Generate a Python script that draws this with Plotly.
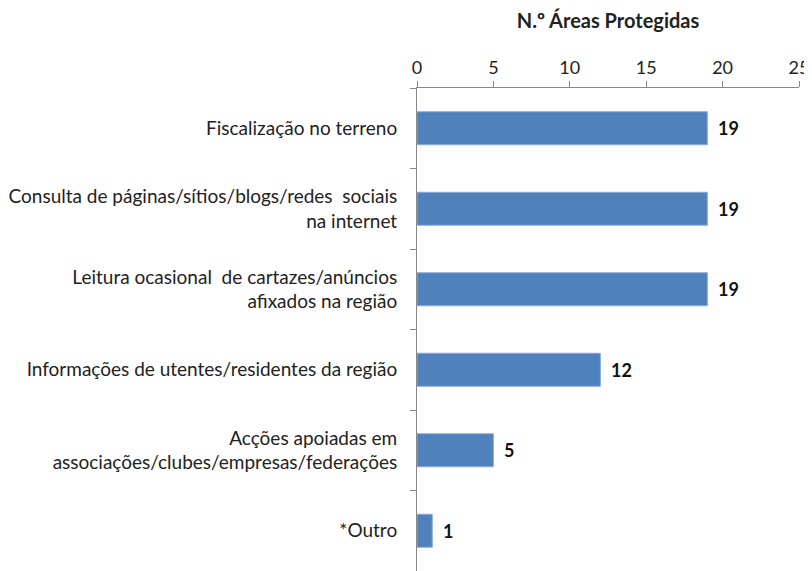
import plotly.graph_objects as go

categories = [
    "Fiscalização no terreno",
    "Consulta de páginas/sítios/blogs/redes  sociais<br>na internet",
    "Leitura ocasional  de cartazes/anúncios<br>afixados na região",
    "Informações de utentes/residentes da região",
    "Acções apoiadas em<br>associações/clubes/empresas/federações",
    "*Outro",
]
values = [19, 19, 19, 12, 5, 1]
x_ticks = [0, 5, 10, 15, 20, 25]
axis_title = "N.º Áreas Protegidas"

FONT = "Lato"
FS = 19
fig = go.Figure()
fig.add_trace(go.Bar(
    y=categories, x=values, orientation="h",
    marker=dict(color="#4F81BD", line=dict(color="#8CABD6", width=1)),
    width=0.41,
    hoverinfo="skip",
))
for c, v in zip(categories, values):
    fig.add_annotation(x=v, y=c, text=f"<b>{v}</b>", showarrow=False,
                       xanchor="left", xshift=9,
                       font=dict(family=FONT, size=18, color="#111"))

fig.update_layout(
    width=804, height=563,
    margin=dict(l=409, r=13, t=80, b=0, autoexpand=False),
    paper_bgcolor="white", plot_bgcolor="white",
    showlegend=False,
    font=dict(family=FONT, size=FS, color="#222"),
    xaxis=dict(
        side="top", range=[0, 25], tickvals=x_ticks, ticktext=[str(t) for t in x_ticks],
        showgrid=False, zeroline=False, showline=True, linecolor="#888", linewidth=1,
        ticks="outside", ticklen=6, tickcolor="#888", automargin=False,
        tickfont=dict(family=FONT, size=18, color="#222"),
        title=dict(text=f"<b>{axis_title}</b>", font=dict(family=FONT, size=20, color="#222"), standoff=22),
    ),
    yaxis=dict(
        autorange="reversed", showgrid=False, zeroline=False,
        showline=True, linecolor="#888", linewidth=1, automargin=False,
        ticks="outside", ticklen=6, tickcolor="#888", tickson="boundaries",
        tickfont=dict(family=FONT, size=FS, color="#222"),
        ticklabelstandoff=15,
    ),
)
fig.write_html("out.html")
